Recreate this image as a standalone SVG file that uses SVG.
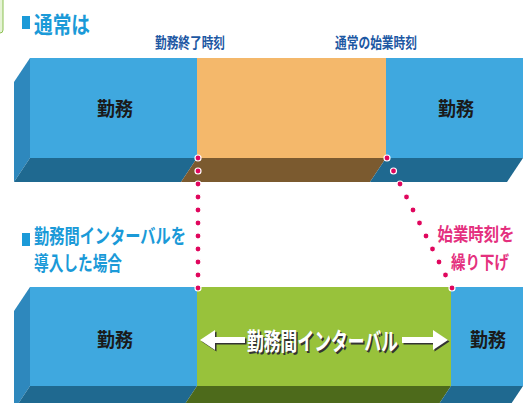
<svg xmlns="http://www.w3.org/2000/svg" width="530" height="403" viewBox="0 0 530 403">
<defs>
<style>
text{font-family:"Noto Sans CJK JP","Noto Sans CJK SC",sans-serif;font-weight:bold}
.title{fill:#1b9ad8;font-size:23px}
.title2{fill:#1b9ad8;font-size:20px}
.time{fill:#1d58a3;font-size:15px}
.work{fill:#1a1a1a;font-size:19px}
.pink{fill:#e4307e;font-size:18px}
.bf{fill:#3fa8df}.bl{fill:#2e88bd}.bb{fill:#1f6990}
.of{fill:#f4b86b}.ob{fill:#7b5a2f}
.gf{fill:#98c23b}.gb{fill:#4d6a1b}
.dot{fill:#e0065d;stroke:#fff;stroke-width:1.2}
.iv{fill:#fff;font-size:24px}
.shadow{fill:#333}
</style>
</defs>
<rect width="530" height="403" fill="#fff"/>
<rect x="-6" y="-4" width="9" height="37" rx="3" fill="#e6f3d6" stroke="#8cc152" stroke-width="1"/>

<g id="title-normal">
<rect x="22" y="16" width="8" height="13" fill="#1b9ad8"/>
<text class="title" x="34" y="33" textLength="56" lengthAdjust="spacingAndGlyphs">通常は</text>
</g>
<g id="label-end">
<text class="time" x="155" y="48" textLength="70" lengthAdjust="spacingAndGlyphs">勤務終了時刻</text>
</g>
<g id="label-start">
<text class="time" x="335" y="48" textLength="82" lengthAdjust="spacingAndGlyphs">通常の始業時刻</text>
</g>

<g id="top-work1">
<polygon class="bl" points="30,58 14,82 14,182 30,158"/>
<rect class="bf" x="30" y="58" width="167" height="100"/>
<polygon class="bb" points="30,158 197,158 181,182 14,182"/>
<text class="work" x="115" y="116" text-anchor="middle" textLength="36" lengthAdjust="spacingAndGlyphs">勤務</text>
</g>
<g id="top-rest">
<rect class="of" x="197" y="58" width="189" height="100"/>
<polygon class="ob" points="197,158 386,158 370,182 181,182"/>
</g>
<g id="top-work2">
<rect class="bf" x="386" y="58" width="137" height="100"/>
<polygon class="bb" points="386,158 523,158 507,182 370,182"/>
<text class="work" x="456" y="116" text-anchor="middle" textLength="36" lengthAdjust="spacingAndGlyphs">勤務</text>
</g>

<g id="title-interval">
<rect x="22" y="233" width="8" height="13" fill="#1b9ad8"/>
<text class="title2" x="34" y="244" textLength="152" lengthAdjust="spacingAndGlyphs">勤務間インターバルを</text>
<text class="title2" x="34" y="271" textLength="88" lengthAdjust="spacingAndGlyphs">導入した場合</text>
</g>
<g id="label-delay">
<text class="pink" x="476" y="241" text-anchor="middle" textLength="77" lengthAdjust="spacingAndGlyphs">始業時刻を</text>
<text class="pink" x="480" y="269" text-anchor="middle" textLength="58" lengthAdjust="spacingAndGlyphs">繰り下げ</text>
</g>

<g id="bottom-work1">
<polygon class="bl" points="30,287 14,311 14,410 30,386"/>
<rect class="bf" x="30" y="287" width="167" height="99"/>
<polygon class="bb" points="30,386 197,386 181,410 14,410"/>
<text class="work" x="115" y="347" text-anchor="middle" textLength="36" lengthAdjust="spacingAndGlyphs">勤務</text>
</g>
<g id="bottom-interval">
<rect class="gf" x="197" y="287" width="254" height="99"/>
<polygon class="gb" points="197,386 451,386 435,410 181,410"/>
<g transform="translate(1.5,1.5)" class="shadow">
<polygon points="200,340 215,330 215,337 245,337 245,343 215,343 215,350"/>
<polygon points="448,340 433,330 433,337 402,337 402,343 433,343 433,350"/>
<text x="247" y="350" font-size="24px" textLength="151" lengthAdjust="spacingAndGlyphs">勤務間インターバル</text>
</g>
<polygon fill="#fff" points="200,340 215,330 215,337 245,337 245,343 215,343 215,350"/>
<polygon fill="#fff" points="448,340 433,330 433,337 402,337 402,343 433,343 433,350"/>
<text class="iv" x="247" y="350" textLength="151" lengthAdjust="spacingAndGlyphs">勤務間インターバル</text>
</g>
<g id="bottom-work2">
<rect class="bf" x="451" y="287" width="72" height="99"/>
<polygon class="bb" points="451,386 523,386 507,410 435,410"/>
<text class="work" x="488" y="347" text-anchor="middle" textLength="36" lengthAdjust="spacingAndGlyphs">勤務</text>
</g>

<g id="connectors">
<circle class="dot" cx="198" cy="158" r="3"/>
<circle class="dot" cx="198" cy="171" r="3"/>
<circle class="dot" cx="198" cy="184" r="3"/>
<circle class="dot" cx="198" cy="197" r="3"/>
<circle class="dot" cx="198" cy="210" r="3"/>
<circle class="dot" cx="198" cy="223" r="3"/>
<circle class="dot" cx="198" cy="236" r="3"/>
<circle class="dot" cx="198" cy="249" r="3"/>
<circle class="dot" cx="198" cy="262" r="3"/>
<circle class="dot" cx="198" cy="275" r="3"/>
<circle class="dot" cx="198" cy="288" r="3"/>
<circle class="dot" cx="387" cy="158" r="3"/>
<circle class="dot" cx="393.5" cy="171" r="3"/>
<circle class="dot" cx="400" cy="184" r="3"/>
<circle class="dot" cx="406.5" cy="197" r="3"/>
<circle class="dot" cx="413" cy="210" r="3"/>
<circle class="dot" cx="419.5" cy="223" r="3"/>
<circle class="dot" cx="426" cy="236" r="3"/>
<circle class="dot" cx="432.5" cy="249" r="3"/>
<circle class="dot" cx="439" cy="262" r="3"/>
<circle class="dot" cx="445.5" cy="275" r="3"/>
<circle class="dot" cx="452" cy="288" r="3"/>
</g>
</svg>
